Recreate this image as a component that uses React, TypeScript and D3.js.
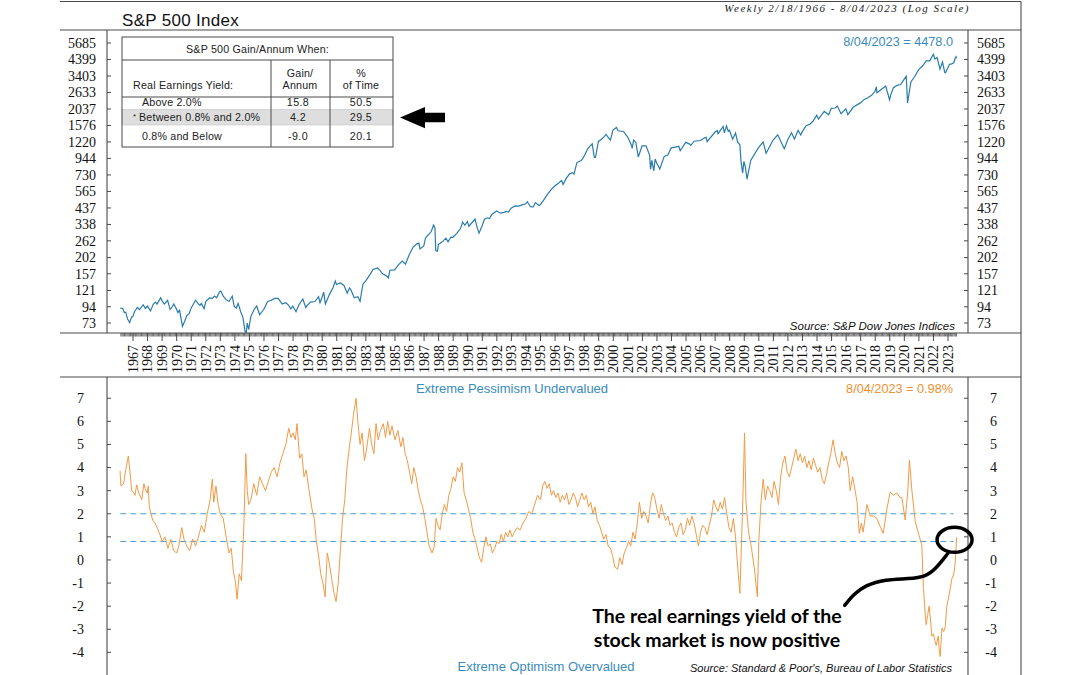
import React from "react";
import * as d3 from "d3";

// ---------------- DATA ----------------
const spxYears = [
  1966.13, 1966.3, 1966.4, 1966.5, 1966.62, 1966.77, 1966.9, 1967.0, 1967.1, 1967.3, 1967.45, 1967.7, 1967.85,
  1968.0, 1968.2, 1968.4, 1968.55, 1968.65, 1968.9, 1969.0, 1969.15, 1969.38, 1969.55, 1969.7, 1969.8, 1969.98,
  1970.08, 1970.2, 1970.4, 1970.55, 1970.7, 1970.85, 1970.99, 1971.3, 1971.5, 1971.6, 1971.7, 1971.88, 1972.0,
  1972.25, 1972.45, 1972.6, 1972.75, 1972.95, 1973.03, 1973.2, 1973.4, 1973.6, 1973.82, 1973.95, 1974.1, 1974.22,
  1974.4, 1974.55, 1974.7, 1974.78, 1974.85, 1974.95, 1975.1, 1975.35, 1975.5, 1975.7, 1975.98, 1976.25, 1976.5,
  1976.72, 1976.98, 1977.25, 1977.5, 1977.7, 1977.85, 1977.98, 1978.2, 1978.4, 1978.67, 1978.87, 1978.98, 1979.2,
  1979.5, 1979.75, 1979.85, 1979.98, 1980.1, 1980.22, 1980.5, 1980.75, 1980.9, 1980.98, 1981.25, 1981.5, 1981.72,
  1981.88, 1981.98, 1982.2, 1982.45, 1982.6, 1982.8, 1982.98, 1983.25, 1983.5, 1983.8, 1983.98, 1984.15, 1984.45,
  1984.55, 1984.65, 1984.98, 1985.25, 1985.5, 1985.72, 1985.98, 1986.25, 1986.5, 1986.65, 1986.72, 1986.98, 1987.1,
  1987.3, 1987.5, 1987.65, 1987.75, 1987.8, 1987.92, 1987.98, 1988.25, 1988.5, 1988.65, 1988.85, 1988.98, 1989.25,
  1989.5, 1989.65, 1989.8, 1989.98, 1990.08, 1990.5, 1990.65, 1990.78, 1990.98, 1991.15, 1991.35, 1991.5, 1991.65,
  1991.98, 1992.25, 1992.5, 1992.65, 1992.8, 1992.98, 1993.25, 1993.5, 1993.75, 1993.98, 1994.1, 1994.3, 1994.5,
  1994.65, 1994.9, 1994.98, 1995.25, 1995.5, 1995.75, 1995.98, 1996.25, 1996.45, 1996.55, 1996.75, 1996.98, 1997.2,
  1997.3, 1997.5, 1997.65, 1997.8, 1997.98, 1998.25, 1998.55, 1998.7, 1998.78, 1998.98, 1999.25, 1999.5, 1999.8,
  1999.98, 2000.22, 2000.33, 2000.7, 2000.98, 2001.25, 2001.3, 2001.4, 2001.55, 2001.72, 2001.98, 2002.25, 2002.5,
  2002.56, 2002.65, 2002.78, 2002.88, 2002.98, 2003.2, 2003.5, 2003.75, 2003.98, 2004.25, 2004.5, 2004.6, 2004.98,
  2005.25, 2005.33, 2005.55, 2005.98, 2006.25, 2006.38, 2006.45, 2006.98, 2007.15, 2007.2, 2007.55, 2007.63, 2007.78,
  2007.9, 2007.98, 2008.2, 2008.4, 2008.55, 2008.7, 2008.78, 2008.89, 2008.98, 2009.08, 2009.19, 2009.45, 2009.98,
  2010.3, 2010.5, 2010.98, 2011.3, 2011.75, 2011.98, 2012.25, 2012.45, 2012.7, 2012.88, 2012.98, 2013.25, 2013.5,
  2013.72, 2013.98, 2014.1, 2014.5, 2014.8, 2014.98, 2015.25, 2015.4, 2015.65, 2015.98, 2016.12, 2016.5, 2016.98,
  2017.25, 2017.5, 2017.75, 2017.98, 2018.07, 2018.12, 2018.72, 2018.98, 2019.05, 2019.25, 2019.5, 2019.75, 2019.98,
  2020.13, 2020.22, 2020.45, 2020.7, 2020.98, 2021.25, 2021.5, 2021.75, 2021.99, 2022.1, 2022.25, 2022.45, 2022.62,
  2022.78, 2022.83, 2022.98, 2023.1, 2023.25, 2023.4, 2023.48, 2023.55, 2023.59,
];
const spxValues = [
  92, 91.5, 86, 86.5, 78, 73.5, 80, 81, 87, 93, 90, 97, 91.5,
  95, 88, 98, 101, 98, 108, 103, 98, 104, 90, 94, 98, 91,
  86, 89, 69.3, 75, 82, 84, 92, 104, 98, 96, 99, 91, 102,
  108, 107, 111, 108, 119, 120, 111, 105, 102, 111, 95, 92, 99,
  87, 80, 64, 62.3, 73, 66, 81, 91, 95, 83, 90, 102, 104,
  107, 107, 98, 100, 96, 91, 95, 87, 97, 106, 93, 96, 101,
  102, 110, 100, 108, 118, 98.2, 114, 127, 140, 133, 136, 131, 116,
  126, 122, 108, 110, 102.4, 134, 140, 153, 168, 172, 165, 157, 151,
  147, 166, 167, 181, 191, 182, 211, 238, 250, 252, 231, 242, 274,
  288, 304, 335, 320, 225, 223, 247, 258, 273, 258, 278, 277, 294,
  317, 351, 334, 353, 329, 368, 322, 295.5, 330, 367, 375, 371, 395,
  417, 403, 408, 414, 410, 435, 451, 450, 458, 466, 481, 445, 444,
  475, 454, 459, 500, 544, 584, 615, 645, 670, 630, 687, 740, 757,
  740, 885, 899, 914, 970, 1101, 1186, 957, 960, 1229, 1286, 1372, 1254,
  1469, 1527, 1452, 1436, 1320, 1160, 1103, 1255, 1211, 966, 1148, 1147, 990,
  797, 916, 777, 936, 880, 800, 975, 996, 1112, 1126, 1140, 1064, 1212,
  1180, 1156, 1234, 1248, 1295, 1310, 1224, 1418, 1459, 1387, 1553, 1406, 1565,
  1440, 1468, 1273, 1400, 1215, 1166, 899, 752, 903, 825, 683, 919, 1115,
  1217, 1022, 1257, 1364, 1099, 1257, 1408, 1278, 1460, 1359, 1426, 1569, 1606,
  1682, 1848, 1742, 1960, 1862, 2059, 2068, 2130, 1893, 2044, 1864, 2099, 2239,
  2363, 2423, 2519, 2674, 2873, 2619, 2914, 2351, 2507, 2834, 2942, 2977, 3231,
  3386, 2237, 3100, 3363, 3756, 3973, 4298, 4308, 4766, 4432, 4530, 3785, 4228,
  3586, 3583, 3840, 4077, 4109, 4180, 4450, 4589, 4478,
];

const reyYears = [
  1966.11, 1966.17, 1966.35, 1966.5, 1966.68, 1966.78, 1966.91, 1967.05, 1967.14, 1967.25, 1967.4, 1967.6, 1967.75,
  1967.82, 1967.98, 1968.05, 1968.12, 1968.35, 1968.51, 1968.67, 1968.86, 1969.0, 1969.2, 1969.4, 1969.6, 1969.8,
  1970.0, 1970.15, 1970.35, 1970.5, 1970.7, 1970.9, 1971.1, 1971.3, 1971.5, 1971.7, 1971.9, 1972.1, 1972.3, 1972.45,
  1972.55, 1972.7, 1972.85, 1973.0, 1973.2, 1973.4, 1973.6, 1973.75, 1973.9, 1974.05, 1974.15, 1974.3, 1974.45,
  1974.62, 1974.75, 1974.85, 1974.95, 1975.1, 1975.3, 1975.5, 1975.7, 1975.9, 1976.1, 1976.3, 1976.5, 1976.7, 1976.9,
  1977.1, 1977.3, 1977.5, 1977.7, 1977.85, 1978.0, 1978.15, 1978.27, 1978.45, 1978.6, 1978.75, 1978.9, 1979.1,
  1979.3, 1979.45, 1979.6, 1979.75, 1979.9, 1980.05, 1980.2, 1980.35, 1980.5, 1980.65, 1980.8, 1980.95, 1981.1,
  1981.25, 1981.4, 1981.55, 1981.7, 1981.85, 1982.0, 1982.15, 1982.33, 1982.45, 1982.6, 1982.75, 1982.9, 1983.05,
  1983.25, 1983.4, 1983.55, 1983.7, 1983.85, 1984.0, 1984.2, 1984.35, 1984.5, 1984.65, 1984.8, 1985.0, 1985.2,
  1985.4, 1985.55, 1985.7, 1985.85, 1986.0, 1986.15, 1986.3, 1986.45, 1986.6, 1986.75, 1986.9, 1987.05, 1987.2,
  1987.35, 1987.55, 1987.7, 1987.82, 1987.95, 1988.1, 1988.25, 1988.4, 1988.55, 1988.7, 1988.85, 1989.0, 1989.15,
  1989.3, 1989.45, 1989.6, 1989.75, 1989.9, 1990.05, 1990.2, 1990.35, 1990.5, 1990.65, 1990.8, 1990.95, 1991.1,
  1991.25, 1991.4, 1991.55, 1991.7, 1991.85, 1992.0, 1992.15, 1992.3, 1992.45, 1992.6, 1992.75, 1992.9, 1993.05,
  1993.2, 1993.4, 1993.6, 1993.8, 1994.0, 1994.2, 1994.4, 1994.6, 1994.8, 1995.0, 1995.15, 1995.3, 1995.45, 1995.6,
  1995.75, 1995.9, 1996.05, 1996.2, 1996.35, 1996.5, 1996.65, 1996.8, 1996.95, 1997.1, 1997.25, 1997.4, 1997.55,
  1997.7, 1997.85, 1998.0, 1998.15, 1998.3, 1998.45, 1998.6, 1998.75, 1998.9, 1999.05, 1999.2, 1999.35, 1999.5,
  1999.65, 1999.8, 1999.95, 2000.1, 2000.3, 2000.45, 2000.6, 2000.75, 2000.9, 2001.05, 2001.2, 2001.35, 2001.5,
  2001.65, 2001.8, 2001.95, 2002.1, 2002.25, 2002.4, 2002.55, 2002.7, 2002.85, 2003.0, 2003.15, 2003.3, 2003.45,
  2003.6, 2003.75, 2003.9, 2004.05, 2004.2, 2004.35, 2004.5, 2004.65, 2004.8, 2004.95, 2005.1, 2005.25, 2005.4,
  2005.55, 2005.7, 2005.85, 2006.0, 2006.15, 2006.3, 2006.45, 2006.6, 2006.75, 2006.9, 2007.05, 2007.2, 2007.35,
  2007.5, 2007.65, 2007.8, 2007.95, 2008.1, 2008.25, 2008.4, 2008.55, 2008.7, 2008.8, 2008.92, 2009.02, 2009.12,
  2009.3, 2009.5, 2009.7, 2009.9, 2010.0, 2010.15, 2010.3, 2010.45, 2010.6, 2010.75, 2010.9, 2011.05, 2011.2,
  2011.35, 2011.5, 2011.65, 2011.8, 2011.95, 2012.1, 2012.25, 2012.4, 2012.55, 2012.7, 2012.85, 2013.0, 2013.15,
  2013.3, 2013.45, 2013.6, 2013.75, 2013.9, 2014.05, 2014.2, 2014.35, 2014.5, 2014.65, 2014.8, 2014.95, 2015.1,
  2015.25, 2015.4, 2015.55, 2015.7, 2015.85, 2016.0, 2016.15, 2016.28, 2016.45, 2016.62, 2016.75, 2016.9, 2017.05,
  2017.17, 2017.43, 2017.66, 2017.9, 2018.11, 2018.34, 2018.55, 2018.8, 2019.03, 2019.25, 2019.49, 2019.7, 2019.83,
  2020.06, 2020.24, 2020.35, 2020.52, 2020.75, 2020.97, 2021.2, 2021.31, 2021.43, 2021.5, 2021.6, 2021.7, 2021.8,
  2021.89, 2022.0, 2022.1, 2022.19, 2022.33, 2022.4, 2022.46, 2022.52, 2022.58, 2022.7, 2022.81, 2022.92, 2023.1,
  2023.27, 2023.4, 2023.5, 2023.59,
];
const reyValues = [
  3.85, 3.2, 3.3, 3.9, 4.5, 3.9, 3.0, 2.9, 2.8, 3.25, 2.9, 2.6, 3.3,
  3.1, 2.9, 3.2, 2.3, 1.73, 1.6, 1.38, 1.08, 0.8, 1.0, 0.5, 0.9, 0.4,
  0.3, 0.6, 1.4, 0.9, 0.6, 0.4, 0.9, 0.6, 1.0, 1.5, 1.2, 2.0, 2.6, 3.5,
  2.5, 3.2, 2.4, 2.0, 1.8, 1.0, 0.3, 0.5, -0.5, -1.0, -1.7, -0.6, -0.9,
  1.5, 4.6, 3.0, 2.4, 2.6, 3.3, 2.8, 3.6, 3.3, 3.0, 3.4, 3.8, 4.0, 3.6,
  4.2, 4.6, 5.0, 5.7, 5.3, 5.5, 5.2, 5.9, 4.4, 4.6, 3.6, 3.9, 3.0,
  2.2, 1.8, 0.8, 0.2, -0.6, -1.0, -1.6, 0.3, -0.2, -0.8, -1.4, -1.8, -1.0,
  0.4, 1.8, 2.6, 4.0, 4.8, 5.5, 6.3, 7.0, 6.0, 5.0, 5.5, 4.3, 4.8,
  5.7, 5.0, 4.6, 5.9, 5.2, 5.6, 5.9, 5.3, 6.0, 5.4, 5.8, 5.2, 5.6,
  4.9, 5.3, 4.6, 4.3, 3.8, 3.3, 4.0, 3.6, 3.0, 2.6, 2.3, 1.8, 1.2,
  0.6, 0.3, 0.6, 1.8, 1.5, 1.3, 2.0, 2.4, 2.1, 2.8, 3.1, 3.6, 3.4,
  4.0, 3.8, 4.2, 2.9, 2.6, 2.2, 1.8, 1.2, 0.9, 0.5, 0.1, -0.1, 0.5,
  1.0, 0.6, 0.7, 0.3, 0.5, 0.8, 0.7, 1.1, 0.8, 1.2, 1.0, 1.3, 1.0,
  1.2, 1.4, 1.3, 1.6, 1.8, 2.1, 2.0, 2.4, 2.8, 2.6, 3.2, 3.4, 3.1, 3.3,
  2.8, 3.0, 2.7, 2.9, 2.5, 2.8, 2.6, 2.9, 2.4, 2.6, 2.9, 2.7, 2.3,
  2.6, 2.9, 2.6, 2.8, 2.3, 2.5, 2.0, 2.3, 1.7, 1.5, 1.2, 0.9, 1.1,
  0.6, 0.5, 0.2, -0.3, -0.4, 0.1, -0.2, 0.3, 0.5, 0.8, 0.6, 1.2, 0.9,
  1.6, 2.5, 1.8, 2.1, 1.9, 1.6, 2.4, 2.9, 2.7, 2.2, 1.8, 2.4, 2.0,
  1.7, 1.9, 1.5, 1.6, 1.2, 1.0, 1.4, 1.6, 1.1, 1.3, 1.8, 1.5, 1.9,
  1.6, 1.1, 0.6, 1.2, 1.5, 1.4, 1.1, 1.5, 1.9, 2.6, 2.3, 2.1, 2.5,
  2.2, 2.7, 2.0, 1.4, 1.2, 1.8, 1.0, -0.3, -1.45, 0.5, 3.0, 5.5, 2.5,
  1.2, 0.5, -0.4, -1.6, 0.8, 2.5, 3.5, 2.6, 3.2, 3.0, 2.7, 3.4, 3.0,
  2.4, 3.6, 4.2, 4.5, 3.8, 3.6, 4.0, 4.4, 4.8, 4.3, 4.6, 4.2, 4.5,
  4.0, 4.3, 3.9, 4.4, 4.1, 3.8, 4.0, 3.5, 3.3, 3.7, 4.2, 4.6, 5.2,
  4.6, 4.2, 4.0, 4.7, 4.3, 4.5, 4.0, 3.0, 3.6, 3.0, 2.5, 1.15, 1.6,
  1.2, 2.4, 1.9, 1.9, 1.8, 1.45, 1.15, 2.2, 2.95, 2.8, 2.9, 2.7, 2.7,
  1.73, 3.0, 4.33, 3.0, 1.66, 1.15, 0.65, -1.2, -2.3, -2.8, -2.4, -2.0, -2.6,
  -3.3, -3.2, -3.5, -3.7, -3.3, -3.9, -4.18, -3.6, -2.95, -3.1, -2.9, -2.0, -1.43,
  -0.8, -0.6, -0.1, 0.98,
];

const spxTicks = [73, 94, 121, 157, 202, 262, 338, 437, 565, 730, 944, 1220, 1576, 2037, 2633, 3403, 4399, 5685];
const reyTicks = [-4, -3, -2, -1, 0, 1, 2, 3, 4, 5, 6, 7];
const yearLabels = d3.range(1967, 2024);
const bandLevels = [2.0, 0.8];
const firstDate = 1966.13;
const lastDate = 2023.59;

const tableTitle = "S&P 500 Gain/Annum When:";
const tableRowLabels = ["Above 2.0%", "Between 0.8% and 2.0%", "0.8% and Below"];
const tableGain = ["15.8", "4.2", "-9.0"];
const tablePct = ["50.5", "29.5", "20.1"];

// callout curve anchor points in data units (year, yield)
const calloutPts: [number, number][] = [
  [2023.01, 0.3],
  [2022.2, -0.35],
  [2021.5, -0.72],
  [2020.3, -0.82],
  [2018.7, -0.84],
  [2017.3, -1.1],
  [2016.5, -1.5],
  [2015.9, -1.97],
];

// ---------------- LAYOUT ----------------
const W = 1080;
const H = 675;
const PL = 107;
const PR = 968;
const TOP_T = 30;
const TOP_B = 333;
const BOT_T = 377;
const BOT_B = 690;
const FRAME_L = 60;
const FRAME_R = 1021;

const SERIF = "'Liberation Serif', 'Times New Roman', serif";
const SANS = "'Liberation Sans', Arial, sans-serif";
const BLUE = "#2a7cad";
const BLUE_TXT = "#3a8bbd";
const ORANGE = "#f39a45";
const ORANGE_TXT = "#f0902f";
const FRAME = "#4a4a4a";

export default function App() {
  const x = d3.scaleLinear().domain([1965.2135, 2024.374]).range([PL, PR]);
  const yTop = d3.scaleLog().domain([62.5, 6956]).range([TOP_B, TOP_T]);
  const yBot = d3.scaleLinear().domain([-5.63, 7.92]).range([BOT_B, BOT_T]);

  const spxLine = d3
    .line<number>()
    .x((_, i) => x(spxYears[i]))
    .y((d) => yTop(d))(spxValues) as string;
  const reyLine = d3
    .line<number>()
    .x((_, i) => x(reyYears[i]))
    .y((d) => yBot(d))(reyValues) as string;
  const calloutPath = d3
    .line<[number, number]>()
    .x((d) => x(d[0]))
    .y((d) => yBot(d[1]))
    .curve(d3.curveBasis)(calloutPts) as string;

  const months: number[] = [];
  for (let yr = 1966; yr <= 2023; yr++) {
    for (let m = 0; m < 12; m++) {
      const t = yr + m / 12;
      if (t >= firstDate - 0.01 && t <= lastDate + 0.01) months.push(t);
    }
  }

  // table geometry
  const tL = 122, tR = 393, tT = 37, tB = 147;
  const c1 = 271, c2 = 330;
  const rowTop = [97, 109.5, 125];
  const rowMid = [102.5, 117.5, 136];

  return (
    <div style={{ position: "fixed", left: 0, top: 0, width: W, height: H, background: "#fff" }}>
      <svg width={W} height={H} viewBox={`0 0 ${W} ${H}`} style={{ display: "block" }}>
        <defs>
          <clipPath id="clipTop">
            <rect x={PL} y={TOP_T} width={PR - PL} height={TOP_B - TOP_T} />
          </clipPath>
          <clipPath id="clipBot">
            <rect x={PL} y={BOT_T} width={PR - PL} height={BOT_B - BOT_T} />
          </clipPath>
        </defs>
        <rect x={0} y={0} width={W} height={H} fill="#fff" />

        {/* frame */}
        <g stroke={FRAME} strokeWidth={1.1} fill="none">
          <line x1={FRAME_L} x2={FRAME_R} y1={1.5} y2={1.5} />
          <line x1={FRAME_L} x2={FRAME_R} y1={TOP_T} y2={TOP_T} />
          <line x1={FRAME_L} x2={FRAME_R} y1={TOP_B} y2={TOP_B} />
          <line x1={FRAME_L} x2={FRAME_R} y1={BOT_T} y2={BOT_T} />
          <line x1={FRAME_R} x2={FRAME_R} y1={1.5} y2={H} />
          <line x1={PL} x2={PL} y1={TOP_T} y2={TOP_B} />
          <line x1={PR} x2={PR} y1={TOP_T} y2={TOP_B} />
          <line x1={PL} x2={PL} y1={BOT_T} y2={BOT_B} />
          <line x1={PR} x2={PR} y1={BOT_T} y2={BOT_B} />
        </g>

        {/* header texts */}
        <text x={122} y={26} fontFamily={SANS} fontSize={17} letterSpacing={0.3} fill="#111">
          S&amp;P 500 Index
        </text>
        <text
          x={970}
          y={11.5}
          textAnchor="end"
          fontFamily={SERIF}
          fontStyle="italic"
          fontSize={11}
          letterSpacing={1.5}
          fill="#222"
        >
          Weekly 2/18/1966 - 8/04/2023 (Log Scale)
        </text>

        {/* top panel y ticks */}
        <g>
          {spxTicks.map((v) => (
            <g key={v}>
              <line x1={PL} x2={PL + 4} y1={yTop(v)} y2={yTop(v)} stroke={FRAME} />
              <line x1={PR - 4} x2={PR} y1={yTop(v)} y2={yTop(v)} stroke={FRAME} />
              <text x={96} y={yTop(v)} dy="0.35em" textAnchor="end" fontFamily={SERIF} fontSize={14} fill="#111">
                {v}
              </text>
              <text x={977} y={yTop(v)} dy="0.35em" textAnchor="start" fontFamily={SERIF} fontSize={14} fill="#111">
                {v}
              </text>
            </g>
          ))}
        </g>

        {/* S&P line */}
        <path d={spxLine} fill="none" stroke={BLUE} strokeWidth={1.2} clipPath="url(#clipTop)" />

        <text x={953} y={46} textAnchor="end" fontFamily={SANS} fontSize={12.7} fill={BLUE_TXT}>
          8/04/2023 = 4478.0
        </text>
        <text x={955} y={330} textAnchor="end" fontFamily={SANS} fontStyle="italic" fontSize={11.5} fill="#111">
          Source: S&amp;P Dow Jones Indices
        </text>

        {/* table */}
        <g fontFamily={SANS} fontSize={10.7} fill="#222">
          <rect x={tL} y={rowTop[1]} width={tR - tL} height={rowTop[2] - rowTop[1]} fill="#dedede" stroke="#c4c4c4" strokeWidth={0.6} />
          <rect x={tL} y={tT} width={tR - tL} height={tB - tT} fill="none" stroke={FRAME} strokeWidth={1} />
          <line x1={tL} x2={tR} y1={60} y2={60} stroke={FRAME} />
          <line x1={tL} x2={tR} y1={97} y2={97} stroke={FRAME} />
          <line x1={c1} x2={c1} y1={60} y2={tB} stroke={FRAME} />
          <line x1={c2} x2={c2} y1={60} y2={tB} stroke={FRAME} />
          <text x={(tL + tR) / 2} y={49} dy="0.35em" textAnchor="middle" letterSpacing={0.2}>
            {tableTitle}
          </text>
          <text x={133} y={85} dy="0.35em" letterSpacing={0.2}>Real Earnings Yield:</text>
          <text x={300} y={73} dy="0.35em" textAnchor="middle" letterSpacing={0.2}>Gain/</text>
          <text x={300} y={85} dy="0.35em" textAnchor="middle" letterSpacing={0.2}>Annum</text>
          <text x={361} y={73} dy="0.35em" textAnchor="middle" letterSpacing={0.2}>%</text>
          <text x={361} y={85} dy="0.35em" textAnchor="middle" letterSpacing={0.2}>of Time</text>
          {tableRowLabels.map((lab, i) => (
            <g key={lab}>
              {i === 1 ? (
                <>
                  <text x={133} y={rowMid[i] - 1} dy="0.35em" fontSize={8}>*</text>
                  <text x={139} y={rowMid[i]} dy="0.35em" letterSpacing={0.2}>{lab}</text>
                </>
              ) : (
                <text x={142} y={rowMid[i]} dy="0.35em" letterSpacing={0.2}>{lab}</text>
              )}
              <text x={298} y={rowMid[i]} dy="0.35em" textAnchor="middle" letterSpacing={0.4}>{tableGain[i]}</text>
              <text x={361} y={rowMid[i]} dy="0.35em" textAnchor="middle" letterSpacing={0.4}>{tablePct[i]}</text>
            </g>
          ))}
        </g>

        {/* arrow pointing to highlighted row */}
        <polygon points="400,117.5 425,107 425,112.7 445,112.7 445,122.3 425,122.3 425,128.3" fill="#000" />

        {/* x axis ticks */}
        <g stroke={FRAME} strokeWidth={0.8}>
          {months.map((t) => (
            <line key={t} x1={x(t)} x2={x(t)} y1={TOP_B} y2={TOP_B + 3.5} />
          ))}
          {yearLabels.map((yr) => (
            <line key={yr} x1={x(yr)} x2={x(yr)} y1={TOP_B} y2={TOP_B + 8} strokeWidth={1} />
          ))}
        </g>
        <g fontFamily={SERIF} fontSize={14} fill="#111">
          {yearLabels.map((yr) => (
            <text
              key={yr}
              x={x(yr)}
              y={345}
              dy="0.35em"
              textAnchor="end"
              transform={`rotate(-90, ${x(yr)}, 345)`}
            >
              {yr}
            </text>
          ))}
        </g>

        {/* bottom panel ticks */}
        <g>
          {reyTicks.map((v) => (
            <g key={v}>
              <line x1={PL} x2={PL + 4} y1={yBot(v)} y2={yBot(v)} stroke={FRAME} />
              <line x1={PR - 4} x2={PR} y1={yBot(v)} y2={yBot(v)} stroke={FRAME} />
              <text x={84} y={yBot(v)} dy="0.35em" textAnchor="end" fontFamily={SERIF} fontSize={14} fill="#111">
                {v}
              </text>
              <text x={997} y={yBot(v)} dy="0.35em" textAnchor="end" fontFamily={SERIF} fontSize={14} fill="#111">
                {v}
              </text>
            </g>
          ))}
        </g>

        {/* threshold dashed lines */}
        {bandLevels.map((b) => (
          <line
            key={b}
            x1={x(firstDate)}
            x2={x(lastDate) - 3}
            y1={yBot(b)}
            y2={yBot(b)}
            stroke="#4f9fcf"
            strokeWidth={1}
            strokeDasharray="6,4"
          />
        ))}

        {/* real earnings yield line */}
        <path d={reyLine} fill="none" stroke={ORANGE} strokeWidth={1} clipPath="url(#clipBot)" />

        <text x={512} y={393} textAnchor="middle" fontFamily={SANS} fontSize={13} fill={BLUE_TXT}>
          Extreme Pessimism Undervalued
        </text>
        <text x={953} y={393} textAnchor="end" fontFamily={SANS} fontSize={12.7} fill={ORANGE_TXT}>
          8/04/2023 = 0.98%
        </text>
        <text x={546} y={671} textAnchor="middle" fontFamily={SANS} fontSize={13} fill={BLUE_TXT}>
          Extreme Optimism Overvalued
        </text>
        <text x={952} y={672} textAnchor="end" fontFamily={SANS} fontStyle="italic" fontSize={11} fill="#111">
          Source: Standard &amp; Poor's, Bureau of Labor Statistics
        </text>

        {/* callout */}
        <ellipse
          cx={x(2023.45)}
          cy={yBot(0.87)}
          rx={17.5}
          ry={12.5}
          fill="none"
          stroke="#000"
          strokeWidth={3.5}
        />
        <path d={calloutPath} fill="none" stroke="#000" strokeWidth={3.5} strokeLinecap="round" />
        <g fontFamily="Lato, 'Open Sans', sans-serif" fontWeight={700} fontSize={19.5} fill="#000" textAnchor="middle">
          <text x={717} y={623}>The real earnings yield of the</text>
          <text x={717} y={647}>stock market is now positive</text>
        </g>
      </svg>
    </div>
  );
}
